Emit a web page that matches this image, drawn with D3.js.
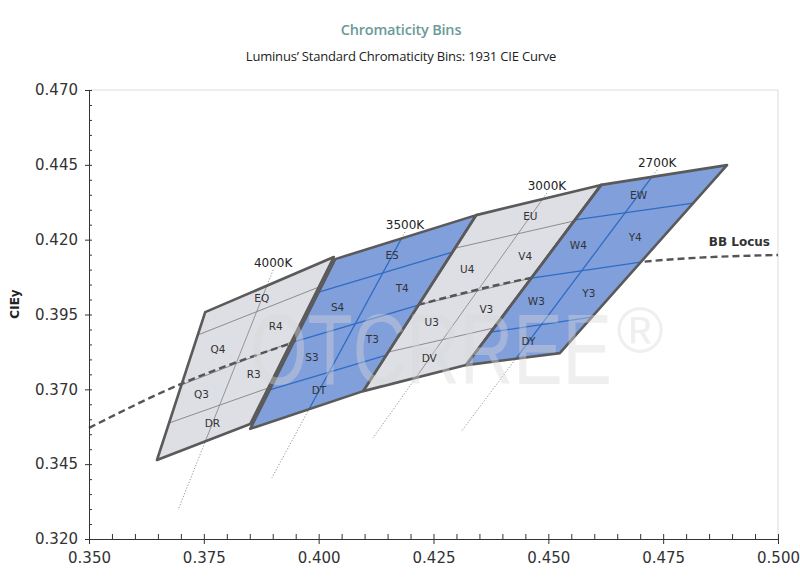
<!DOCTYPE html>
<html>
<head>
<meta charset="utf-8">
<script src="https://cdn.jsdelivr.net/npm/d3@7"></script>
<style>
  body { margin: 0; background: #fff; }
  svg { display: block; }
</style>
</head>
<body>
<div id="chart"></div>
<script>
// Section 1: data (CIE 1931 x, y)
var cctNames = ["4000K", "3500K", "3000K", "2700K"];

// top strip, upper-left, upper-right, lower-left, lower-right, bottom strip
var binCodes = [
  ["EQ", "Q4", "R4", "Q3", "R3", "DR"],
  ["ES", "S4", "T4", "S3", "T3", "DT"],
  ["EU", "U4", "V4", "U3", "V3", "DV"],
  ["EW", "W4", "Y4", "W3", "Y3", "DY"]
];

// corners: top-left, top-right, bottom-right, bottom-left
var binCorners = [
  [[0.3753, 0.3958], [0.4033, 0.4142], [0.3851, 0.3584], [0.3648, 0.3464]],
  [[0.4036, 0.4135], [0.4343, 0.4282], [0.4097, 0.3694], [0.3851, 0.3568]],
  [[0.4343, 0.4282], [0.4615, 0.4383], [0.4321, 0.3781], [0.4097, 0.3694]],
  [[0.4615, 0.4383], [0.4889, 0.4449], [0.4525, 0.3821], [0.4321, 0.3781]]
];

// where the three divider lines meet the left and right edges (0 = top, 1 = bottom)
var splitLeft = [
  [0.155, 0.493, 0.750],
  [0.194, 0.488, 0.771],
  [0.188, 0.511, 0.778],
  [0.194, 0.517, 0.817]
];
var splitRight = [
  [0.180, 0.509, 0.784],
  [0.210, 0.511, 0.795],
  [0.200, 0.517, 0.794],
  [0.202, 0.516, 0.809]
];

// isotherm (CCT) lines: label end, lower end
var isoLines = [
  [[0.3901, 0.4099], [0.3694, 0.3297]],
  [[0.4188, 0.4226], [0.3898, 0.3404]],
  [[0.4497, 0.4356], [0.4118, 0.3537]],
  [[0.4737, 0.4433], [0.4310, 0.3558]]
];

// black body locus
var locusX = [0.350, 0.3694, 0.3948, 0.4216, 0.4462, 0.4700, 0.5000];
var locusY = [0.3571, 0.3714, 0.3858, 0.3982, 0.4072, 0.4125, 0.4149];

var xTickValues = [0.350, 0.375, 0.400, 0.425, 0.450, 0.475, 0.500];
var yTickValues = [0.320, 0.345, 0.370, 0.395, 0.420, 0.445, 0.470];

// Section 2: canvas
var width = 800;
var height = 579;
var plotLeft = 89, plotRight = 778, plotTop = 90, plotBottom = 539;

var svg = d3.select("#chart")
  .append("svg")
  .attr("width", width)
  .attr("height", height);

var x = d3.scaleLinear().domain([0.350, 0.500]).range([plotLeft, plotRight]);
var y = d3.scaleLinear().domain([0.320, 0.470]).range([plotBottom, plotTop]);

var grayFill = "#dddfe4", blueFill = "#819fdb";
var grayLine = "#8c8c8c", blueLine = "#2f6cc4";
var edgeColor = "#5a5a5a";

// titles
svg.append("text")
  .attr("x", 401).attr("y", 35)
  .attr("text-anchor", "middle")
  .style("font-family", "Open Sans")
  .style("font-weight", 600)
  .style("font-size", "14.5px")
  .style("letter-spacing", "-0.2px")
  .style("fill", "#6b9a9a")
  .text("Chromaticity Bins");

svg.append("text")
  .attr("x", 401).attr("y", 61)
  .attr("text-anchor", "middle")
  .style("font-family", "Open Sans")
  .style("font-size", "13px")
  .style("letter-spacing", "-0.2px")
  .style("fill", "#222")
  .text("Luminus\u2019 Standard Chromaticity Bins: 1931 CIE Curve");

// light frame on top and right
svg.append("path")
  .attr("d", "M" + plotLeft + "," + plotTop + "H" + plotRight + "V" + plotBottom)
  .attr("fill", "none")
  .attr("stroke", "#dcdcdc")
  .attr("stroke-width", 1);

// helpers
function pt(p) { return [x(p[0]), y(p[1])]; }
function lerp(a, b, t) { return [a[0] + (b[0] - a[0]) * t, a[1] + (b[1] - a[1]) * t]; }
function cross(p1, p2, p3, p4) {
  var d = (p1[0] - p2[0]) * (p3[1] - p4[1]) - (p1[1] - p2[1]) * (p3[0] - p4[0]);
  var a = p1[0] * p2[1] - p1[1] * p2[0];
  var b = p3[0] * p4[1] - p3[1] * p4[0];
  return [(a * (p3[0] - p4[0]) - (p1[0] - p2[0]) * b) / d,
          (a * (p3[1] - p4[1]) - (p1[1] - p2[1]) * b) / d];
}
function mean(ps) {
  return [d3.mean(ps, function(p) { return p[0]; }), d3.mean(ps, function(p) { return p[1]; })];
}

var defs = svg.append("defs");
binCorners.forEach(function(c, i) {
  defs.append("clipPath").attr("id", "bin" + i)
    .append("path").attr("d", "M" + c.map(pt).join("L") + "Z");
});

// dotted isotherm lines (full length)
var isoG = svg.append("g");
isoLines.forEach(function(l) {
  isoG.append("path")
    .attr("d", "M" + l.map(pt).join("L"))
    .attr("stroke", "#777")
    .attr("stroke-width", 0.8)
    .attr("stroke-dasharray", "1.2,1.8")
    .attr("fill", "none");
});

function drawBin(i) {
  var c = binCorners[i].map(pt);
  var blue = i % 2 === 1;
  var g = svg.append("g");
  g.append("path")
    .attr("d", "M" + c.join("L") + "Z")
    .attr("fill", blue ? blueFill : grayFill);
  for (var k = 0; k < 3; k++) {
    var a = lerp(c[0], c[3], splitLeft[i][k]);
    var b = lerp(c[1], c[2], splitRight[i][k]);
    g.append("line")
      .attr("x1", a[0]).attr("y1", a[1]).attr("x2", b[0]).attr("y2", b[1])
      .attr("stroke", blue ? blueLine : grayLine)
      .attr("stroke-width", blue ? 1.3 : 1);
  }
  g.append("path")
    .attr("d", "M" + isoLines[i].map(pt).join("L"))
    .attr("clip-path", "url(#bin" + i + ")")
    .attr("stroke", blue ? blueLine : grayLine)
    .attr("stroke-width", blue ? 1.3 : 0.9)
    .attr("fill", "none");
}

// gray bins, then locus, then blue bins on top of it
drawBin(0);
drawBin(2);

var locus = d3.line()
  .x(function(d, i) { return x(locusX[i]); })
  .y(function(d, i) { return y(locusY[i]); })
  .curve(d3.curveMonotoneX);

svg.append("path")
  .datum(locusX)
  .attr("d", locus)
  .attr("fill", "none")
  .attr("stroke", "#555")
  .attr("stroke-width", 2.4)
  .attr("stroke-dasharray", "7,4");

drawBin(1);
drawBin(3);

// outlines
binCorners.forEach(function(c) {
  svg.append("path")
    .attr("d", "M" + c.map(pt).join("L") + "Z")
    .attr("fill", "none")
    .attr("stroke", edgeColor)
    .attr("stroke-width", 2.6)
    .attr("stroke-linejoin", "round");
});

// faint watermark over the marks
var wm = svg.append("g").style("opacity", 0.4);
wm.append("text")
  .attr("x", 250).attr("y", 384)
  .attr("textLength", 362)
  .attr("lengthAdjust", "spacingAndGlyphs")
  .style("font-family", "Liberation Sans")
  .style("font-size", "100px")
  .style("fill", "#d8d8d8")
  .text("OTCRREE");
wm.append("text")
  .attr("x", 640).attr("y", 352)
  .attr("text-anchor", "middle")
  .style("font-family", "Liberation Sans")
  .style("font-size", "64px")
  .style("fill", "#d8d8d8")
  .text("\u00AE");

// bin labels
var labelG = svg.append("g")
  .style("font-family", "DejaVu Sans")
  .style("font-size", "10.5px")
  .style("fill", "#333")
  .attr("text-anchor", "middle");

binCorners.forEach(function(cc, i) {
  var c = cc.map(pt);
  var iso = isoLines[i].map(pt);
  var L = [c[0]], R = [c[1]];
  for (var k = 0; k < 3; k++) {
    L.push(lerp(c[0], c[3], splitLeft[i][k]));
    R.push(lerp(c[1], c[2], splitRight[i][k]));
  }
  L.push(c[3]); R.push(c[2]);
  var I = L.map(function(l, k) { return cross(l, R[k], iso[0], iso[1]); });
  var spots = [
    mean([I[0], I[1]]),
    mean([L[1], I[1], I[2], L[2]]),
    mean([I[1], R[1], R[2], I[2]]),
    mean([L[2], I[2], I[3], L[3]]),
    mean([I[2], R[2], R[3], I[3]]),
    mean([I[3], I[4]])
  ];
  spots.forEach(function(s, j) {
    labelG.append("text")
      .attr("x", s[0]).attr("y", s[1])
      .attr("dy", "0.35em")
      .text(binCodes[i][j]);
  });
});

// CCT labels at the top of each isotherm
isoLines.forEach(function(l, i) {
  var p = pt(l[0]);
  svg.append("text")
    .attr("x", p[0]).attr("y", p[1] - 3)
    .attr("text-anchor", "middle")
    .style("font-family", "DejaVu Sans")
    .style("font-size", "12px")
    .style("fill", "#222")
    .text(cctNames[i]);
});

svg.append("text")
  .attr("x", x(locusX[locusX.length - 1]) - 8)
  .attr("y", y(locusY[locusY.length - 1]) - 9)
  .attr("text-anchor", "end")
  .style("font-family", "DejaVu Sans")
  .style("font-weight", "bold")
  .style("font-size", "12px")
  .style("fill", "#333")
  .text("BB Locus");

// Section 3: axes
var tickFont = function(g) {
  g.selectAll("text")
    .style("font-family", "DejaVu Sans")
    .style("font-size", "15px")
    .style("fill", "#333");
  g.selectAll("line, path").attr("stroke", "#333");
};

var xMinor = d3.range(0.350, 0.5001, 0.005);
var yMinor = d3.range(0.320, 0.4701, 0.005);

svg.append("g")
  .attr("transform", "translate(0," + plotBottom + ")")
  .call(d3.axisTop(x).tickValues(xMinor).tickSize(5).tickFormat(""))
  .call(function(g) { g.select(".domain").remove(); g.selectAll("line").attr("stroke", "#333"); });

svg.append("g")
  .attr("transform", "translate(0," + plotBottom + ")")
  .call(d3.axisBottom(x).tickValues(xTickValues).tickSizeInner(5).tickSizeOuter(0)
    .tickPadding(8).tickFormat(d3.format(".3f")))
  .call(tickFont);

svg.append("g")
  .attr("transform", "translate(" + plotLeft + ",0)")
  .call(d3.axisRight(y).tickValues(yMinor).tickSize(3).tickFormat(""))
  .call(function(g) { g.select(".domain").remove(); g.selectAll("line").attr("stroke", "#333"); });

svg.append("g")
  .attr("transform", "translate(" + plotLeft + ",0)")
  .call(d3.axisLeft(y).tickValues(yTickValues).tickSizeInner(4).tickSizeOuter(0)
    .tickPadding(7).tickFormat(d3.format(".3f")))
  .call(tickFont);

svg.append("text")
  .attr("transform", "translate(19,304)rotate(-90)")
  .attr("text-anchor", "middle")
  .style("font-family", "DejaVu Sans")
  .style("font-weight", "bold")
  .style("font-size", "12px")
  .style("fill", "#222")
  .text("CIEy");
</script>
</body>
</html>
